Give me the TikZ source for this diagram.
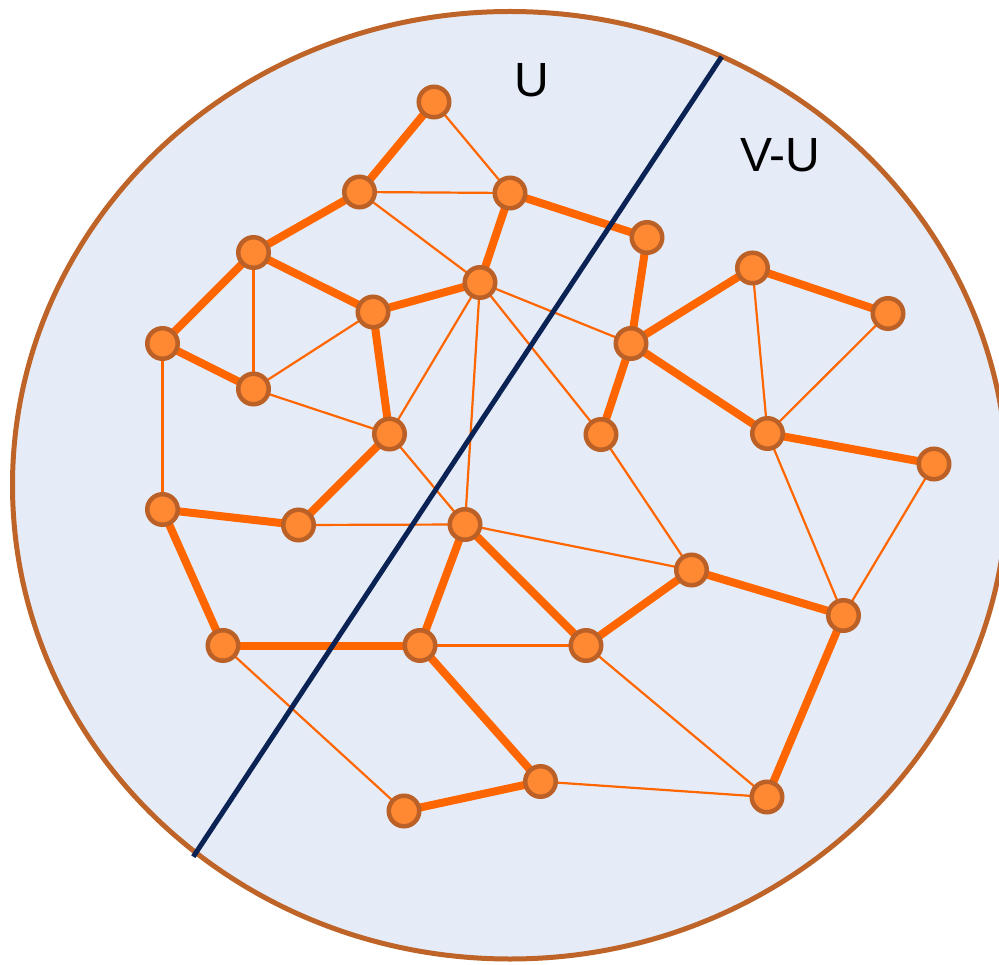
\documentclass[tikz,border=0pt]{standalone}
\usepackage{fontspec}
\setmainfont{Liberation Sans}
\definecolor{areafill}{HTML}{E6ECF7}
\definecolor{areaborder}{HTML}{BF6428}
\definecolor{vfill}{HTML}{FF8833}
\definecolor{vborder}{HTML}{BB6127}
\definecolor{edgecol}{HTML}{FF6600}
\definecolor{cutcol}{HTML}{0B2255}
\tikzset{
  vert/.style={circle, fill=vfill, draw=vborder, line width=4.5pt, minimum size=30.5pt, inner sep=0pt},
  heavy/.style={draw=edgecol, line width=8pt},
  light/.style={draw=edgecol, line width=2.2pt},
  cutline/.style={draw=cutcol, line width=5pt},
  setlabel/.style={inner sep=0pt, font=\fontsize{48}{48}\selectfont, text=black}
}
\begin{document}
\begin{tikzpicture}[x=1pt,y=-1pt]
\useasboundingbox (0,0) rectangle (999,965);
\fill[areafill, draw=areaborder, line width=5pt] (510,485.25) ellipse [x radius=497.5, y radius=473.75];

\coordinate (A) at (434,102);
\coordinate (B) at (359.5,192);
\coordinate (C) at (510,193);
\coordinate (D) at (647,237.5);
\coordinate (E) at (253.5,252.5);
\coordinate (F) at (480,282.5);
\coordinate (G) at (373,312);
\coordinate (H) at (162.5,343.5);
\coordinate (I) at (631,343.5);
\coordinate (J) at (752.5,268);
\coordinate (K) at (888,313.5);
\coordinate (L) at (253.5,389);
\coordinate (M) at (389.5,434);
\coordinate (N) at (601,434.5);
\coordinate (O) at (767.5,433.5);
\coordinate (P) at (934,464);
\coordinate (Q) at (162.5,509.5);
\coordinate (R) at (298.5,525);
\coordinate (S) at (465,524.5);
\coordinate (T) at (691.5,570);
\coordinate (Uu) at (843.5,615.5);
\coordinate (V) at (223,645.5);
\coordinate (W) at (420,645.5);
\coordinate (X) at (586,645.5);
\coordinate (Y) at (540.5,781.5);
\coordinate (Z) at (404,811);
\coordinate (AA) at (767,797);

% heavy edges
\foreach \p/\q in {A/B, B/E, C/D, C/F, E/G, G/F, E/H, H/L, G/M, M/R, R/Q, Q/V, V/W, W/S, S/X, W/Y, Y/Z, X/T, T/Uu, Uu/AA, D/I, I/N, I/J, J/K, I/O, O/P}
  \draw[heavy] (\p) -- (\q);
% light edges
\foreach \p/\q in {A/C, B/C, B/F, E/L, L/G, L/M, H/Q, M/F, F/I, F/N, F/S, M/S, R/S, S/T, N/T, J/O, K/O, O/Uu, P/Uu, W/X, X/AA, Y/AA, V/Z}
  \draw[light] (\p) -- (\q);

% cut line
\coordinate (cutlow) at (193.3,856.7);
\coordinate (cuthigh) at (721.7,56.7);
\draw[cutline] (cutlow) -- (cuthigh);

% vertices
\foreach \p in {A,B,C,D,E,F,G,H,I,J,K,L,M,N,O,P,Q,R,S,T,Uu,V,W,X,Y,Z,AA}
  \node[vert] (v\p) at (\p) {};

\node[setlabel] (labU) at (531.5,80.5) {U};
\node[setlabel] (labVU) at (780.5,155.5) {V-U};
\end{tikzpicture}
\end{document}
